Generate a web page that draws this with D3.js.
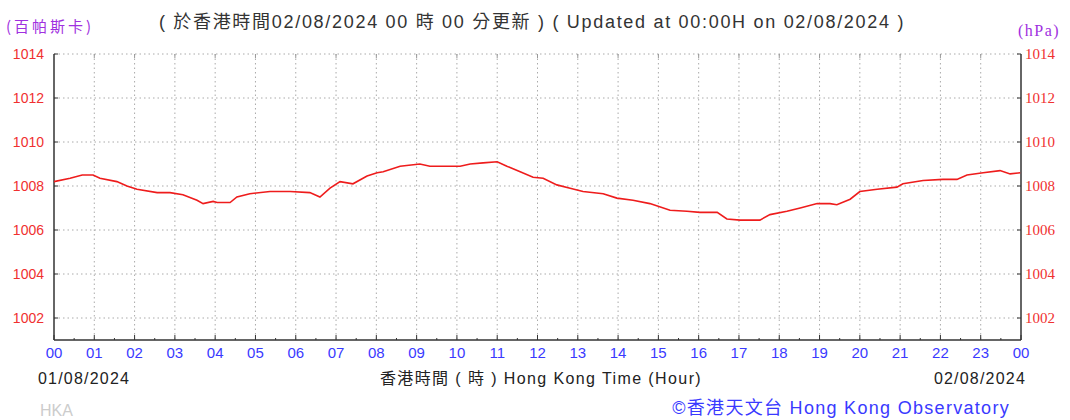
<!DOCTYPE html>
<html>
<head>
<meta charset="utf-8">
<script src="https://cdn.jsdelivr.net/npm/d3@7"></script>
<style>
body{margin:0;background:#fff;}
svg{display:block;}
</style>
</head>
<body>
<svg id="c" width="1070" height="420"></svg>
<script>
// Data (hours since 00:00 on 01/08/2024, pressure hPa)
const hours = [0,0.4,0.7,0.97,1.14,1.56,1.81,2.06,2.56,2.88,3.2,3.55,3.7,3.95,4.05,4.37,4.54,4.86,5.36,5.86,6.35,6.6,6.85,7.1,7.42,7.77,8.02,8.17,8.59,9.08,9.33,10.08,10.33,10.65,11.0,11.24,11.57,11.89,12.14,12.48,12.81,13.13,13.63,13.97,14.37,14.79,15.29,15.71,16.03,16.46,16.7,17.03,17.52,17.77,18.19,18.52,18.94,19.26,19.43,19.76,20.0,20.43,20.92,21.07,21.57,22.06,22.41,22.66,23.06,23.48,23.73,23.98];
const pressure = [1008.2,1008.35,1008.5,1008.5,1008.35,1008.2,1008.0,1007.85,1007.7,1007.7,1007.6,1007.35,1007.2,1007.3,1007.25,1007.25,1007.5,1007.65,1007.75,1007.75,1007.7,1007.5,1007.9,1008.2,1008.1,1008.45,1008.6,1008.65,1008.9,1009.0,1008.9,1008.9,1009.0,1009.05,1009.1,1008.9,1008.65,1008.4,1008.35,1008.05,1007.9,1007.75,1007.65,1007.45,1007.35,1007.2,1006.9,1006.85,1006.8,1006.8,1006.5,1006.45,1006.45,1006.7,1006.85,1007.0,1007.2,1007.2,1007.15,1007.4,1007.75,1007.85,1007.95,1008.1,1008.25,1008.3,1008.3,1008.5,1008.6,1008.7,1008.55,1008.6];
const xTickLabels = ["00","01","02","03","04","05","06","07","08","09","10","11","12","13","14","15","16","17","18","19","20","21","22","23","00"];
const yTicks = [1002,1004,1006,1008,1010,1012,1014];

const svg = d3.select("#c");
const L = 54, R = 1021, T = 54, B = 340;
const x = d3.scaleLinear().domain([0,24]).range([L,R]);
const y = d3.scaleLinear().domain([1001,1014]).range([B,T]);

// grid
const g = svg.append("g");
g.selectAll("line.vg").data(d3.range(1,24)).enter().append("line")
  .attr("x1",d=>x(d)).attr("x2",d=>x(d)).attr("y1",T).attr("y2",B)
  .attr("stroke","#aaa").attr("stroke-width",1).attr("stroke-dasharray","1.5,3");
g.selectAll("line.hg").data(yTicks).enter().append("line")
  .attr("x1",L).attr("x2",R).attr("y1",d=>y(d)).attr("y2",d=>y(d))
  .attr("stroke","#aaa").attr("stroke-width",1).attr("stroke-dasharray","1.5,3");

// top small ticks
g.selectAll("line.tt").data(d3.range(1,24)).enter().append("line")
  .attr("x1",d=>x(d)).attr("x2",d=>x(d)).attr("y1",T).attr("y2",T+4)
  .attr("stroke","#999").attr("stroke-width",1);

// border axes
svg.append("line").attr("x1",L).attr("x2",L).attr("y1",T).attr("y2",B).attr("stroke","#333").attr("stroke-width",1.5);
svg.append("line").attr("x1",R).attr("x2",R).attr("y1",T).attr("y2",B).attr("stroke","#333").attr("stroke-width",1.5);
svg.append("line").attr("x1",L).attr("x2",R).attr("y1",B).attr("y2",B).attr("stroke","#333").attr("stroke-width",1.5);

// bottom ticks (hour) and minor (half-hour)
svg.selectAll("line.bt").data(d3.range(0,25)).enter().append("line")
  .attr("x1",d=>x(d)).attr("x2",d=>x(d)).attr("y1",B).attr("y2",B-5)
  .attr("stroke","#333").attr("stroke-width",1);
svg.selectAll("line.bm").data(d3.range(0.5,24,1)).enter().append("line")
  .attr("x1",d=>x(d)).attr("x2",d=>x(d)).attr("y1",B).attr("y2",B-2)
  .attr("stroke","#333").attr("stroke-width",1);
// y ticks
svg.selectAll("line.ly").data(yTicks).enter().append("line")
  .attr("x1",L).attr("x2",L+4).attr("y1",d=>y(d)).attr("y2",d=>y(d)).attr("stroke","#333");
svg.selectAll("line.ry").data(yTicks).enter().append("line")
  .attr("x1",R-4).attr("x2",R).attr("y1",d=>y(d)).attr("y2",d=>y(d)).attr("stroke","#333");

// labels y
svg.selectAll("text.ly").data(yTicks).enter().append("text")
  .attr("x",L-10).attr("y",d=>y(d)+5).attr("text-anchor","end")
  .attr("font-family","Liberation Sans Narrow, Liberation Sans, sans-serif").attr("font-size",14)
  .attr("fill","#f03030").text(d=>d);
svg.selectAll("text.ry").data(yTicks).enter().append("text")
  .attr("x",R+4).attr("y",d=>y(d)+5).attr("text-anchor","start")
  .attr("font-family","Liberation Serif, serif").attr("font-size",15)
  .attr("fill","#f03030").text(d=>d);

// x labels
svg.selectAll("text.xl").data(xTickLabels).enter().append("text")
  .attr("x",(d,i)=>x(i)).attr("y",B+18).attr("text-anchor","middle")
  .attr("font-family","Liberation Sans, Arial, sans-serif").attr("font-size",15)
  .attr("fill","#3a3aff").text(d=>d);

// line
svg.append("path").datum(hours.map((h,i)=>[h,pressure[i]]))
  .attr("fill","none").attr("stroke","#ee1c1c").attr("stroke-width",1.6)
  .attr("d",d3.line().x(d=>x(d[0])).y(d=>y(d[1])));

// texts
const sans = "Liberation Sans, Arial, 'Noto Sans CJK TC', sans-serif";
svg.append("text").attr("x",532).attr("y",28).attr("text-anchor","middle")
  .attr("font-family",sans).attr("font-size",18).attr("letter-spacing",1.7).attr("fill","#333")
  .text("( 於香港時間02/08/2024 00 時 00 分更新 ) ( Updated at 00:00H on 02/08/2024 )");
svg.append("text").attr("x",6).attr("y",32).attr("font-family","'Noto Sans CJK TC', sans-serif")
  .attr("font-size",15).attr("letter-spacing",3).attr("fill","#a030e0").text("(百帕斯卡)");
svg.append("text").attr("x",1018).attr("y",36).attr("font-family","Liberation Serif, serif")
  .attr("font-size",16).attr("letter-spacing",1.5).attr("fill","#a030e0").text("(hPa)");
svg.append("text").attr("x",38).attr("y",384).attr("font-family",sans)
  .attr("font-size",16).attr("letter-spacing",1.2).attr("fill","#222").text("01/08/2024");
svg.append("text").attr("x",1026).attr("y",384).attr("text-anchor","end").attr("font-family",sans)
  .attr("font-size",16).attr("letter-spacing",1.2).attr("fill","#222").text("02/08/2024");
svg.append("text").attr("x",541).attr("y",384).attr("text-anchor","middle").attr("font-family",sans)
  .attr("font-size",16).attr("letter-spacing",1.4).attr("fill","#222").text("香港時間 ( 時 ) Hong Kong Time (Hour)");
svg.append("text").attr("x",40).attr("y",416).attr("font-family",sans)
  .attr("font-size",16).attr("fill","#ccc").text("HKA");
svg.append("text").attr("x",1010).attr("y",414).attr("text-anchor","end").attr("font-family",sans)
  .attr("font-size",18).attr("letter-spacing",1.3).attr("fill","#3a3aff").text("©香港天文台 Hong Kong Observatory");
</script>
</body>
</html>
